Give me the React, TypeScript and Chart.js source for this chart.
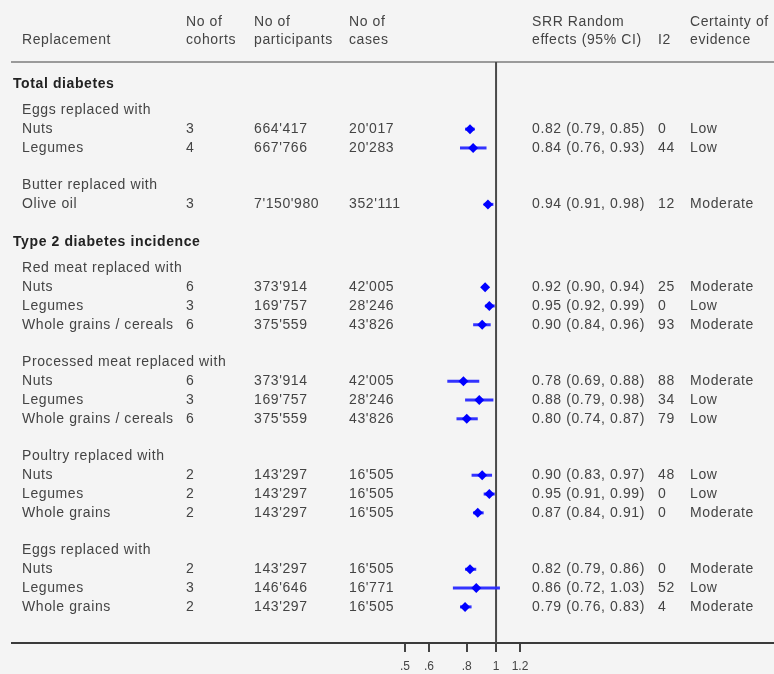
import React, { useEffect, useRef } from 'react';
import { Chart, registerables } from 'chart.js';

Chart.register(...registerables);

// ---- Data ----
const rowLabels = [
  'Total diabetes',
  'Eggs replaced with',
  'Nuts',
  'Legumes',
  'Butter replaced with',
  'Olive oil',
  'Type 2 diabetes incidence',
  'Red meat replaced with',
  'Nuts',
  'Legumes',
  'Whole grains / cereals',
  'Processed meat replaced with',
  'Nuts',
  'Legumes',
  'Whole grains / cereals',
  'Poultry replaced with',
  'Nuts',
  'Legumes',
  'Whole grains',
  'Eggs replaced with',
  'Nuts',
  'Legumes',
  'Whole grains',
];
const rowKinds = [
  'section', 'group', 'item', 'item',
  'group', 'item',
  'section', 'group', 'item', 'item', 'item',
  'group', 'item', 'item', 'item',
  'group', 'item', 'item', 'item',
  'group', 'item', 'item', 'item',
];

// one entry per item row, in order
const cohorts = [3, 4, 3, 6, 3, 6, 6, 3, 6, 2, 2, 2, 2, 3, 2];
const participants = [
  "664'417", "667'766", "7'150'980", "373'914", "169'757", "375'559",
  "373'914", "169'757", "375'559", "143'297", "143'297", "143'297",
  "143'297", "146'646", "143'297",
];
const cases = [
  "20'017", "20'283", "352'111", "42'005", "28'246", "43'826",
  "42'005", "28'246", "43'826", "16'505", "16'505", "16'505",
  "16'505", "16'771", "16'505",
];
const srr = [0.82, 0.84, 0.94, 0.92, 0.95, 0.90, 0.78, 0.88, 0.80, 0.90, 0.95, 0.87, 0.82, 0.86, 0.79];
const ciLow = [0.79, 0.76, 0.91, 0.90, 0.92, 0.84, 0.69, 0.79, 0.74, 0.83, 0.91, 0.84, 0.79, 0.72, 0.76];
const ciHigh = [0.85, 0.93, 0.98, 0.94, 0.99, 0.96, 0.88, 0.98, 0.87, 0.97, 0.99, 0.91, 0.86, 1.03, 0.83];
const i2 = [0, 44, 12, 25, 0, 93, 88, 34, 79, 48, 0, 0, 0, 52, 4];
const certainty = [
  'Low', 'Low', 'Moderate', 'Moderate', 'Low', 'Moderate',
  'Moderate', 'Low', 'Low', 'Low', 'Low', 'Moderate',
  'Moderate', 'Low', 'Moderate',
];

const headerLine1 = ['', 'No of', 'No of', 'No of', 'SRR Random', '', 'Certainty of'];
const headerLine2 = ['Replacement', 'cohorts', 'participants', 'cases', 'effects (95% CI)', 'I2', 'evidence'];

const tickValues = [0.5, 0.6, 0.8, 1, 1.2];
const tickLabels = ['.5', '.6', '.8', '1', '1.2'];
const nullValue = 1;

// ---- Layout helpers (not data) ----
const COL_X = [22, 186, 254, 349, 532, 658, 690];
const SECTION_X = 13;
const FONT = '"Liberation Sans", Arial, sans-serif';
const TEXT_COLOR = '#444';
const BLUE = '#0000ff';

function computeRowPositions(kinds: string[]): number[] {
  const pos: number[] = [];
  let p = 0;
  kinds.forEach((k, i) => {
    if (i > 0) {
      const prev = kinds[i - 1];
      if (prev === 'section') p += 1.4;
      else if (k !== 'item' && prev === 'item') p += 2;
      else p += 1;
    }
    pos.push(p);
  });
  return pos;
}

export default function App() {
  const canvasRef = useRef<HTMLCanvasElement | null>(null);

  useEffect(() => {
    document.body.style.margin = '0';
    const canvas = canvasRef.current;
    if (!canvas) return;

    const rowPos = computeRowPositions(rowKinds);
    const itemPos = rowPos.filter((_, i) => rowKinds[i] === 'item');

    const ciDatasets = itemPos.map((y, i) => ({
      label: 'CI ' + i,
      data: [
        { x: ciLow[i], y },
        { x: ciHigh[i], y },
      ],
      showLine: true,
      borderColor: 'rgba(40,40,255,0.95)',
      borderWidth: 3,
      pointRadius: 0,
      clip: false as any,
    }));

    const pointDataset = {
      label: 'SRR',
      data: itemPos.map((y, i) => ({ x: srr[i], y })),
      pointStyle: 'rectRot' as const,
      pointRadius: 5,
      backgroundColor: BLUE,
      borderColor: BLUE,
      borderWidth: 0,
      showLine: false,
      clip: false as any,
    };

    const bgPlugin = {
      id: 'bg',
      beforeDraw(chart: any) {
        const ctx = chart.ctx;
        ctx.save();
        ctx.fillStyle = '#f4f4f4';
        ctx.fillRect(0, 0, chart.width, chart.height);
        ctx.restore();
      },
    };

    const linesPlugin = {
      id: 'lines',
      beforeDatasetsDraw(chart: any) {
        const ctx = chart.ctx;
        const { top, bottom } = chart.chartArea;
        const x1 = chart.scales.x.getPixelForValue(nullValue);
        ctx.save();
        // header rule
        ctx.strokeStyle = '#9a9a9a';
        ctx.lineWidth = 2;
        ctx.beginPath();
        ctx.moveTo(11, top);
        ctx.lineTo(chart.width, top);
        ctx.stroke();
        // bottom axis rule
        ctx.strokeStyle = '#3a3a3a';
        ctx.lineWidth = 2;
        ctx.beginPath();
        ctx.moveTo(11, bottom);
        ctx.lineTo(chart.width, bottom);
        ctx.stroke();
        // null line
        ctx.strokeStyle = '#4a4a4a';
        ctx.lineWidth = 2;
        ctx.beginPath();
        ctx.moveTo(x1, top);
        ctx.lineTo(x1, bottom);
        ctx.stroke();
        ctx.restore();
      },
    };

    const textPlugin = {
      id: 'tableText',
      afterDraw(chart: any) {
        const ctx = chart.ctx;
        const yScale = chart.scales.y;
        const top = chart.chartArea.top;
        ctx.save();
        (ctx as any).letterSpacing = '0.6px';
        ctx.textBaseline = 'middle';
        ctx.textAlign = 'left';
        ctx.fillStyle = TEXT_COLOR;
        ctx.font = `14px ${FONT}`;
        // header
        headerLine1.forEach((t, c) => {
          if (t) ctx.fillText(t, COL_X[c], top - 40);
        });
        headerLine2.forEach((t, c) => {
          if (t) ctx.fillText(t, COL_X[c], top - 22);
        });
        // rows
        let item = 0;
        rowLabels.forEach((label, r) => {
          const y = yScale.getPixelForValue(rowPos[r]);
          const kind = rowKinds[r];
          if (kind === 'section') {
            ctx.font = `bold 14px ${FONT}`;
            ctx.fillStyle = '#222';
            ctx.fillText(label, SECTION_X, y);
            ctx.font = `14px ${FONT}`;
            ctx.fillStyle = TEXT_COLOR;
          } else if (kind === 'group') {
            ctx.fillText(label, COL_X[0], y);
          } else {
            const k = item++;
            ctx.fillText(label, COL_X[0], y);
            ctx.fillText(String(cohorts[k]), COL_X[1], y);
            ctx.fillText(participants[k], COL_X[2], y);
            ctx.fillText(cases[k], COL_X[3], y);
            ctx.fillText(
              `${srr[k].toFixed(2)} (${ciLow[k].toFixed(2)}, ${ciHigh[k].toFixed(2)})`,
              COL_X[4], y,
            );
            ctx.fillText(String(i2[k]), COL_X[5], y);
            ctx.fillText(certainty[k], COL_X[6], y);
          }
        });
        ctx.restore();
      },
    };

    const chart = new Chart(canvas, {
      type: 'scatter',
      data: { datasets: [pointDataset as any, ...(ciDatasets as any[])] },
      options: {
        animation: false,
        responsive: false,
        devicePixelRatio: 1,
        layout: { padding: { left: 405, right: 254, top: 62, bottom: 0 } },
        plugins: {
          legend: { display: false },
          tooltip: { enabled: false },
        },
        scales: {
          x: {
            type: 'logarithmic',
            min: 0.5,
            max: 1.2,
            position: 'bottom',
            afterBuildTicks: (scale: any) => {
              scale.ticks = tickValues.map((v) => ({ value: v }));
            },
            afterFit: (scale: any) => {
              scale.height = 31;
            },
            ticks: {
              autoSkip: false,
              maxRotation: 0,
              padding: 7,
              color: TEXT_COLOR,
              font: { family: FONT, size: 12 },
              callback: (_v: any, i: number) => tickLabels[i],
            },
            grid: {
              drawOnChartArea: false,
              drawTicks: true,
              tickLength: 9,
              color: '#444',
              lineWidth: 2,
            },
            border: { display: false },
          },
          y: {
            type: 'linear',
            display: false,
            reverse: true,
            min: -1.17,
            max: 29.72,
          },
        },
      },
      plugins: [bgPlugin, linesPlugin, textPlugin],
    });

    return () => chart.destroy();
  }, []);

  return (
    <div style={{ width: 774, height: 674 }}>
      <canvas ref={canvasRef} width={774} height={674} />
    </div>
  );
}
